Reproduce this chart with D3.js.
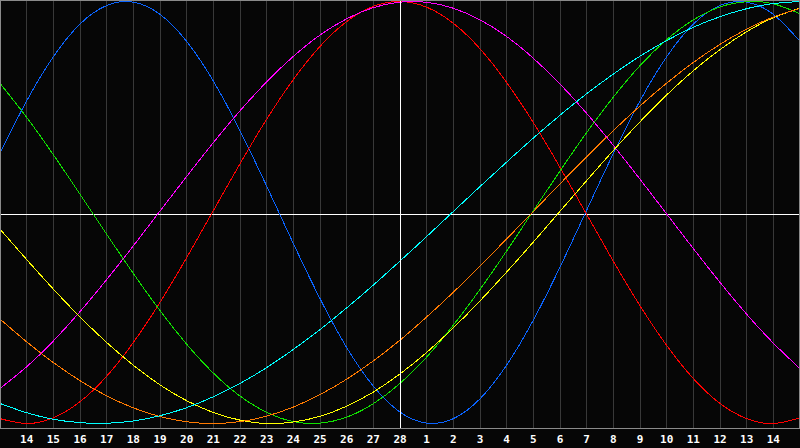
<!DOCTYPE html>
<html><head><meta charset="utf-8">
<script src="https://cdn.jsdelivr.net/npm/d3@7"></script>
<style>html,body{margin:0;padding:0;background:#060606;overflow:hidden;}</style>
</head><body><svg id="c" width="800" height="448"></svg>
<script>
// Day labels for sample index 0..30 (index 0 and 30 lie at the chart edges, unlabeled)
const days = [13,14,15,16,17,18,19,20,21,22,23,24,25,26,27,28,1,2,3,4,5,6,7,8,9,10,11,12,13,14,15];
const todayIndex = 15;

// Cycle values (-1..1) per day
const physical = [0.280,0.529,0.738,0.893,0.981,0.997,0.939,0.811,0.623,0.388,0.125,-0.147,-0.408,-0.640,-0.823,-0.946,-0.998,-0.977,-0.883,-0.723,-0.510,-0.259,0.011,0.280,0.529,0.738,0.893,0.981,0.997,0.939,0.811];
const emotional = [-0.977,-1.000,-0.973,-0.897,-0.776,-0.616,-0.426,-0.214,0.009,0.231,0.442,0.630,0.787,0.905,0.977,1.000,0.973,0.897,0.776,0.616,0.426,0.214,-0.009,-0.231,-0.442,-0.630,-0.787,-0.905,-0.977,-1.000,-0.973];
const intellectual = [0.612,0.451,0.274,0.087,-0.103,-0.289,-0.465,-0.624,-0.761,-0.870,-0.947,-0.991,-0.998,-0.970,-0.906,-0.810,-0.685,-0.534,-0.365,-0.182,0.008,0.197,0.379,0.547,0.696,0.819,0.913,0.974,0.999,0.989,0.942];
const intuitive = [-0.834,-0.731,-0.609,-0.470,-0.318,-0.158,0.007,0.171,0.331,0.482,0.619,0.740,0.841,0.918,0.971,0.997,0.996,0.968,0.913,0.834,0.731,0.609,0.470,0.318,0.158,-0.007,-0.171,-0.331,-0.482,-0.619,-0.740];
const aesthetic = [-0.079,-0.223,-0.363,-0.495,-0.616,-0.724,-0.817,-0.892,-0.948,-0.984,-1.000,-0.993,-0.966,-0.918,-0.851,-0.765,-0.663,-0.547,-0.419,-0.282,-0.140,0.006,0.151,0.294,0.430,0.557,0.672,0.772,0.857,0.923,0.969];
const awareness = [-0.505,-0.613,-0.711,-0.797,-0.869,-0.926,-0.967,-0.992,-1.000,-0.991,-0.965,-0.922,-0.863,-0.790,-0.703,-0.605,-0.495,-0.378,-0.254,-0.125,0.005,0.136,0.264,0.388,0.505,0.613,0.711,0.797,0.869,0.926,0.967];
const spiritual = [-0.905,-0.949,-0.980,-0.996,-0.999,-0.988,-0.963,-0.925,-0.873,-0.810,-0.735,-0.649,-0.555,-0.452,-0.344,-0.230,-0.114,0.005,0.123,0.239,0.353,0.461,0.563,0.656,0.741,0.815,0.878,0.928,0.966,0.990,1.000];

const seriesList = [physical, emotional, intellectual, intuitive, aesthetic, awareness, spiritual];
const seriesColors = ["#0a64ff","#ff0000","#10e000","#ff00ff","#ffff00","#ff7a00","#00ffff"];

const W = 800, H = 448, plotBottom = 428;
const svg = d3.select("#c");
const x = d3.scaleLinear().domain([0, days.length - 1]).range([0, W]);
const y = d3.scaleLinear().domain([-1, 1]).range([423.5, 1.5]);
const px = v => Math.floor(v) + 0.5;

svg.append("rect").attr("width", W).attr("height", H).attr("fill", "#060606");

// vertical day grid lines
svg.append("g").selectAll("line").data(d3.range(1, days.length - 1)).join("line")
  .attr("x1", i => px(x(i))).attr("x2", i => px(x(i)))
  .attr("y1", 0).attr("y2", plotBottom)
  .attr("stroke", "#383838").attr("stroke-width", 1).attr("shape-rendering", "crispEdges");

// centre (zero) line and today line
svg.append("line").attr("x1", 0).attr("x2", W).attr("y1", 214.5).attr("y2", 214.5)
  .attr("stroke", "#ffffff").attr("shape-rendering", "crispEdges");

// curves
const line = d3.line().x((d, i) => x(i)).y(d => y(d)).curve(d3.curveNatural);
svg.append("g").selectAll("path").data(seriesList).join("path")
  .attr("d", d => line(d))
  .attr("fill", "none")
  .attr("stroke", (d, i) => seriesColors[i])
  .attr("stroke-width", 1)
  .attr("shape-rendering", "crispEdges");

svg.append("line").attr("x1", px(x(todayIndex))).attr("x2", px(x(todayIndex))).attr("y1", 0).attr("y2", plotBottom)
  .attr("stroke", "#ffffff").attr("shape-rendering", "crispEdges");

// border
svg.append("rect").attr("x", 0.5).attr("y", 0.5).attr("width", W - 1).attr("height", plotBottom)
  .attr("fill", "none").attr("stroke", "#8a8a8a").attr("shape-rendering", "crispEdges");

// day labels
svg.append("g").selectAll("text").data(d3.range(1, days.length - 1)).join("text")
  .attr("x", i => x(i)).attr("y", 443)
  .attr("text-anchor", "middle")
  .attr("fill", "#ffffff")
  .style("font", "bold 11px 'DejaVu Sans Mono'")
  .text(i => days[i]);
</script></body></html>
